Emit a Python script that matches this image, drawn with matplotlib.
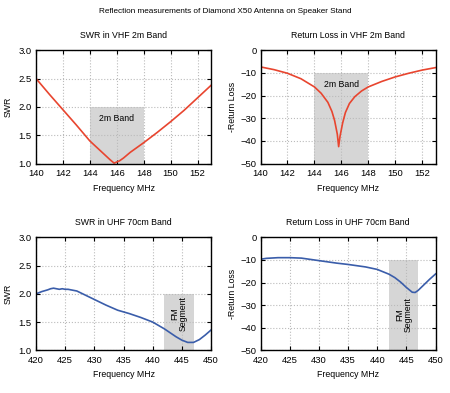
import numpy as np
import matplotlib.pyplot as plt

plt.rcParams['font.family'] = ['Liberation Sans', 'DejaVu Sans']
plt.rcParams['font.size'] = 6.3

# VHF 2m band data
vhf_freq = [140, 141, 142, 143, 144, 145, 145.5, 145.8, 146.2, 146.5, 147, 148, 149, 150, 151, 152, 153]
vhf_swr = [2.5, 2.22, 1.95, 1.68, 1.4, 1.18, 1.07, 1.01, 1.05, 1.1, 1.2, 1.37, 1.55, 1.74, 1.94, 2.16, 2.38]
vhf_rl_freq = [140, 141, 142, 143, 144, 144.5, 145, 145.3, 145.5, 145.7, 145.8, 145.9, 146.1, 146.3, 146.6, 147, 147.5, 148, 149, 150, 151, 152, 153]
vhf_rl = [-7.4, -8.6, -10.2, -12.6, -16.2, -19, -23, -27, -31, -37, -42.5, -38, -32, -27.5, -23.5, -20.5, -18, -16.2, -13.8, -11.8, -10.2, -8.8, -7.7]

# UHF 70cm band data
uhf_freq = [420, 421, 422, 422.5, 423, 423.5, 424, 424.5, 425, 425.5, 426, 427, 428, 430, 432, 434, 436, 438, 440, 442, 443, 444, 445, 446, 447, 448, 449, 450]
uhf_swr = [2.0, 2.04, 2.07, 2.09, 2.1, 2.09, 2.08, 2.09, 2.08, 2.08, 2.07, 2.05, 2.0, 1.9, 1.8, 1.71, 1.65, 1.58, 1.5, 1.38, 1.31, 1.24, 1.18, 1.14, 1.14, 1.19, 1.27, 1.36]
uhf_rl_freq = [420, 421, 423, 425, 427, 430, 433, 435, 438, 440, 442, 443, 444, 445, 446, 446.5, 447, 448, 449, 450]
uhf_rl = [-9.7, -9.3, -9.0, -9.0, -9.2, -10.3, -11.4, -12.0, -13.1, -14.2, -16.3, -17.8, -19.8, -22.2, -24.3, -24.4, -23.5, -21.0, -18.5, -16.2]

red = '#e8452f'
blue = '#3a5daa'
box = '#d6d6d6'


def style(ax, xlim, ylim, xticks, yticks):
    ax.set_xlim(xlim)
    ax.set_ylim(ylim)
    ax.set_xticks(xticks)
    ax.set_yticks(yticks)
    ax.grid(True, color='#bbbbbb', linestyle=':', linewidth=0.8)
    ax.tick_params(direction='in', top=True, right=True, length=3, labelsize=6.8)
    ax.tick_params(axis='x', pad=4)
    ax.tick_params(axis='y', pad=3)
    for s in ax.spines.values():
        s.set_linewidth(1.0)
    ax.set_xlabel('Frequency MHz', labelpad=4)


fig = plt.figure(figsize=(4.5, 3.93), dpi=100)
fig.text(0.5, 0.972, 'Reflection measurements of Diamond X50 Antenna on Speaker Stand',
         ha='center', va='center', fontsize=5.9)

ax1 = fig.add_axes([0.08, 0.5835, 0.389, 0.289])
ax1.fill_between([144, 148], 1.0, 2.0, color=box, lw=0)
ax1.plot(vhf_freq, vhf_swr, color=red, lw=1.2)
ax1.text(146, 1.8, '2m Band', ha='center', va='center')
style(ax1, (140, 153), (1.0, 3.0), range(140, 153, 2), [1.0, 1.5, 2.0, 2.5, 3.0])
ax1.set_yticklabels(['1.0', '1.5', '2.0', '2.5', '3.0'])
ax1.set_ylabel('SWR', labelpad=4)
ax1.set_title('SWR in VHF 2m Band', fontsize=6.3, pad=9)

ax2 = fig.add_axes([0.579, 0.5835, 0.389, 0.289])
ax2.fill_between([144, 148], -50, -10, color=box, lw=0)
ax2.plot(vhf_rl_freq, vhf_rl, color=red, lw=1.2)
ax2.text(146, -15, '2m Band', ha='center', va='center')
style(ax2, (140, 153), (-50, 0), range(140, 153, 2), range(-50, 1, 10))
ax2.set_ylabel('-Return Loss', labelpad=2)
ax2.set_title('Return Loss in VHF 2m Band', fontsize=6.3, pad=9)

ax3 = fig.add_axes([0.08, 0.1086, 0.389, 0.2875])
ax3.fill_between([442, 447], 1.0, 2.0, color=box, lw=0)
ax3.plot(uhf_freq, uhf_swr, color=blue, lw=1.2)
ax3.text(444.5, 1.65, 'FM\nSegment', ha='center', va='center', rotation=90, linespacing=0.9)
style(ax3, (420, 450), (1.0, 3.0), range(420, 451, 5), [1.0, 1.5, 2.0, 2.5, 3.0])
ax3.set_yticklabels(['1.0', '1.5', '2.0', '2.5', '3.0'])
ax3.set_ylabel('SWR', labelpad=4)
ax3.set_title('SWR in UHF 70cm Band', fontsize=6.3, pad=9)

ax4 = fig.add_axes([0.579, 0.1086, 0.389, 0.2875])
ax4.fill_between([442, 447], -50, -10, color=box, lw=0)
ax4.plot(uhf_rl_freq, uhf_rl, color=blue, lw=1.2)
ax4.text(444.5, -34, 'FM\nSegment', ha='center', va='center', rotation=90, linespacing=0.9)
style(ax4, (420, 450), (-50, 0), range(420, 451, 5), range(-50, 1, 10))
ax4.set_ylabel('-Return Loss', labelpad=2)
ax4.set_title('Return Loss in UHF 70cm Band', fontsize=6.3, pad=9)

plt.savefig('out.png', dpi=100)
